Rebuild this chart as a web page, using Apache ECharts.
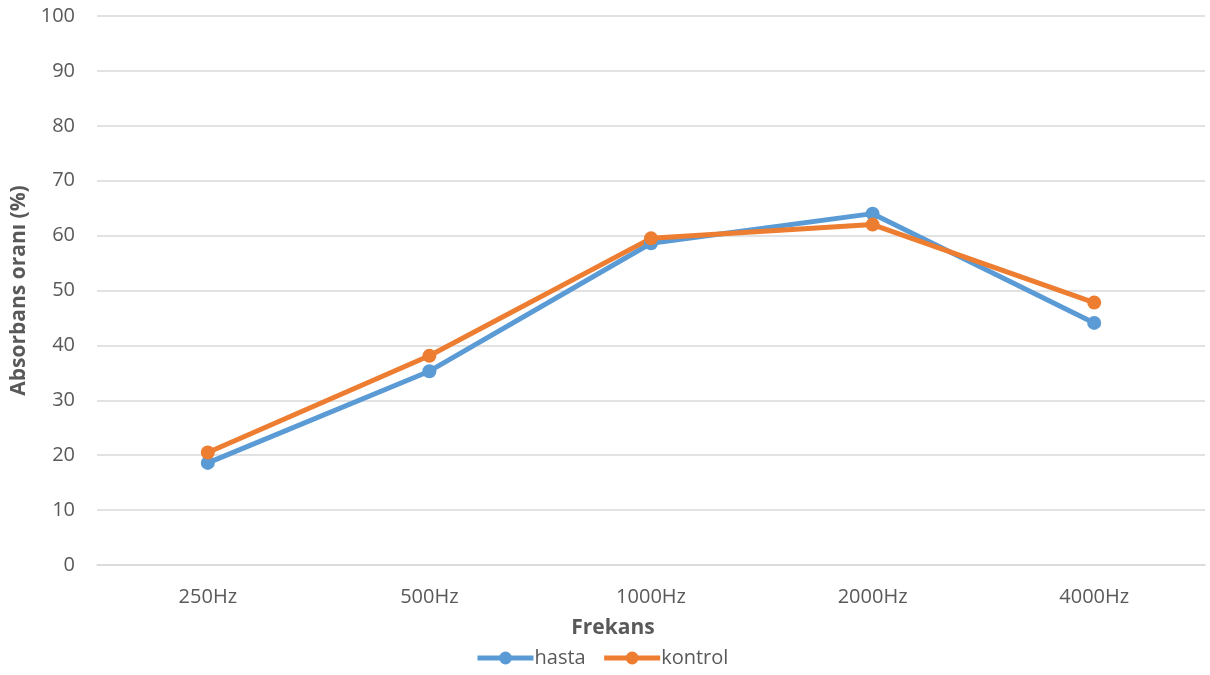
<!DOCTYPE html>
<html>
<head>
<meta charset="utf-8">
<style>
  html, body { margin: 0; padding: 0; background: #ffffff; }
  #chart { width: 1210px; height: 675px; }
</style>
<script src="https://cdn.jsdelivr.net/npm/echarts@6/dist/echarts.min.js"></script>
</head>
<body>
<div id="chart"></div>
<script>
// Absorbance ratio per frequency for the two groups
const categories = ['250Hz', '500Hz', '1000Hz', '2000Hz', '4000Hz'];
const hasta = [18.6, 35.3, 58.6, 64.0, 44.1];
const kontrol = [20.5, 38.1, 59.5, 62.0, 47.8];

const textColor = '#595959';
const font = '"Open Sans", sans-serif';

const chart = echarts.init(document.getElementById('chart'));
chart.setOption({
  animation: false,
  textStyle: { fontFamily: font, color: textColor },
  grid: { left: 97, right: 5, top: 16, bottom: 110 },
  legend: {
    bottom: 2,
    left: 470,
    itemWidth: 56,
    itemHeight: 16,
    itemGap: 16,
    lineStyle: { width: 5 },
    textStyle: { fontFamily: font, fontSize: 20, color: textColor, padding: [0, 0, 0, -4] },
    data: ['hasta', 'kontrol']
  },
  xAxis: {
    type: 'category',
    data: categories,
    boundaryGap: true,
    name: 'Frekans',
    nameLocation: 'middle',
    nameGap: 53,
    nameTextStyle: { fontFamily: font, fontSize: 21, fontWeight: 'bold', color: textColor, padding: [0, 76, 0, 0] },
    axisLine: { show: true, lineStyle: { color: '#d9d9d9', width: 1.5 } },
    axisTick: { show: false },
    axisLabel: { fontSize: 20, color: textColor, margin: 22 }
  },
  yAxis: {
    type: 'value',
    min: 0,
    max: 100,
    interval: 10,
    name: 'Absorbans oranı (%)',
    nameLocation: 'middle',
    nameGap: 62,
    nameTextStyle: { fontFamily: font, fontSize: 21, fontWeight: 'bold', color: textColor },
    axisLine: { show: false },
    axisTick: { show: false },
    axisLabel: { fontSize: 20, color: textColor, margin: 22 },
    splitLine: { lineStyle: { color: '#d9d9d9', width: 1.5 } }
  },
  series: [
    {
      name: 'hasta',
      type: 'line',
      data: hasta,
      symbol: 'circle',
      symbolSize: 14,
      lineStyle: { width: 5, color: '#5b9bd5' },
      itemStyle: { color: '#5b9bd5' }
    },
    {
      name: 'kontrol',
      type: 'line',
      data: kontrol,
      symbol: 'circle',
      symbolSize: 14,
      lineStyle: { width: 5, color: '#ed7d31' },
      itemStyle: { color: '#ed7d31' }
    }
  ]
});
</script>
</body>
</html>
